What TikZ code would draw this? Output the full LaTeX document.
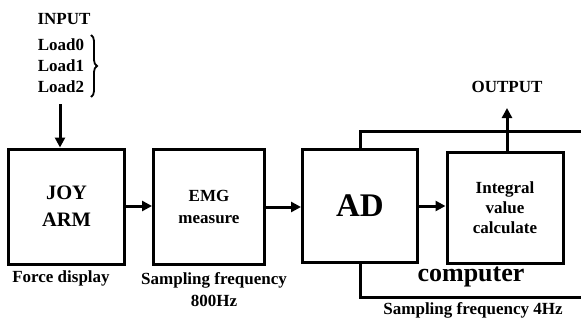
\documentclass[tikz,border=0pt]{standalone}
\usepackage{fontspec}
\setmainfont{Liberation Serif}
\usetikzlibrary{arrows.meta,decorations.pathreplacing}
\begin{document}
\begin{tikzpicture}[x=1pt,y=-1pt,
  blockbox/.style={draw,line width=3pt,minimum width=#1,minimum height=115pt,
    inner sep=0pt,align=center},
  lbl/.style={font=\bfseries\fontsize{17}{22}\selectfont,inner sep=0pt,align=center},
  arr/.style={line width=3pt,-{Triangle[length=10pt,width=10pt]}},
  frame/.style={line width=3pt}]
\useasboundingbox (0,0) rectangle (581,321);

% input group
\node[lbl] (input) at (64,19) {INPUT};
\node[lbl,align=left,font=\bfseries\fontsize{17}{21}\selectfont] (load) at (61,66)
  {Load0\\Load1\\Load2};
\draw[line width=1.8pt,decorate,decoration={brace,amplitude=6pt}]
  (91,35) -- (91,97);

% blocks
\node[blockbox=116pt,font=\bfseries\fontsize{20.5}{27}\selectfont] (joy) at (66.5,206.5) {JOY\\ARM};
\node[blockbox=111pt,font=\bfseries\fontsize{17}{22}\selectfont] (emg) at (209,206.5) {EMG\\measure};
\node[blockbox=115pt,minimum height=113pt,font=\bfseries\fontsize{33}{36}\selectfont] (ad) at (360,206) {AD};
\node[blockbox=116pt,minimum height=111pt,font=\bfseries\fontsize{17}{20}\selectfont] (calc) at (505,208)
  {Integral\\value\\calculate};

% connectors
\coordinate (instart) at (60,104);
\draw[arr] (instart) -- (instart |- joy.north);
\draw[arr] (joy.east |- 0,206) -- (emg.west |- 0,206);
\draw[arr] (emg.east |- 0,207) -- (ad.west |- 0,207);
\draw[arr] (ad.east |- 0,206) -- (calc.west |- 0,206);

% computer frame
\draw[frame] (ad.north) -- (ad.north |- 0,131) -- (581,131);
\draw[frame] (ad.south) -- (ad.south |- 0,297) -- (581,297);

% output
\node[lbl] (output) at (507,87) {OUTPUT};
\coordinate (outtip) at (507,108);
\draw[arr] (calc.north -| outtip) -- (outtip);

% labels
\node[lbl] (force) at (61,278) {Force display};
\node[lbl] (samp1) at (214,290) {Sampling frequency\\800Hz};
\node[lbl,font=\bfseries\fontsize{26}{28}\selectfont] (comp) at (471,277) {computer};
\node[lbl] (samp2) at (473,310) {Sampling frequency 4Hz};
\end{tikzpicture}
\end{document}
